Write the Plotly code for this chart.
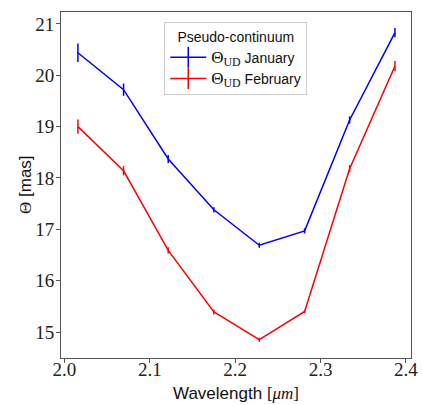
import plotly.graph_objects as go

wavelength = [2.0158, 2.0693, 2.1216, 2.1751, 2.2283, 2.2814, 2.3341, 2.3872]
theta_jan = [20.44, 19.72, 18.37, 17.38, 16.69, 16.97, 19.13, 20.83]
err_jan = [0.18, 0.12, 0.08, 0.05, 0.05, 0.05, 0.07, 0.09]
theta_feb = [19.00, 18.14, 16.59, 15.39, 14.85, 15.40, 18.18, 20.18]
err_feb = [0.14, 0.09, 0.06, 0.05, 0.04, 0.03, 0.07, 0.10]

legend_title = "Pseudo-continuum"
name_jan = "<span style='font-family:Liberation Serif;font-size:17px'>Θ<sub>UD</sub></span> January"
name_feb = "<span style='font-family:Liberation Serif;font-size:17px'>Θ<sub>UD</sub></span> February"
x_title = "Wavelength <span style='font-family:Liberation Serif'>[<i>μm</i>]</span>"
y_title = "<span style='font-family:Liberation Serif'>Θ</span> [mas]"

BLUE = "#0000ff"
RED = "#ff0000"

fig = go.Figure()
for y, e, c in [(theta_jan, err_jan, BLUE), (theta_feb, err_feb, RED)]:
    fig.add_trace(go.Scatter(
        x=wavelength, y=y, mode="lines",
        line=dict(color=c, width=1.5),
        error_y=dict(type="data", array=e, color=c, thickness=1.5, width=0),
        showlegend=False, hoverinfo="skip",
    ))
for name, c in [(name_jan, BLUE), (name_feb, RED)]:
    fig.add_trace(go.Scatter(
        x=[None], y=[None], mode="lines+markers", name=name,
        line=dict(color=c, width=1.5),
        marker=dict(symbol="line-ns-open", size=15, color=c,
                    line=dict(color=c, width=1.5)),
    ))

axis_common = dict(
    showline=True, linecolor="#555555", linewidth=1, mirror=True,
    ticks="outside", ticklen=4, tickcolor="#555555", tickwidth=1,
    showgrid=False, zeroline=False, automargin=False,
    tickfont=dict(family="Liberation Serif", size=19, color="#222222"),
)

title_font = dict(family="Liberation Sans", size=17, color="#111111")

fig.update_layout(
    width=422, height=405,
    margin=dict(l=61, r=11, t=12, b=47),
    paper_bgcolor="white", plot_bgcolor="white",
    xaxis=dict(range=[1.996, 2.406], tickvals=[2.0, 2.1, 2.2, 2.3, 2.4],
               ticktext=["2.0", "2.1", "2.2", "2.3", "2.4"],
               ticklabelstandoff=-10,
               **axis_common),
    yaxis=dict(range=[14.494, 21.233], tickvals=[15, 16, 17, 18, 19, 20, 21],
               ticklabelstandoff=-2,
               **axis_common),
    legend=dict(
        title=dict(text=legend_title, side="top center",
                   font=dict(family="Liberation Sans", size=14, color="#111111")),
        font=dict(family="Liberation Sans", size=14, color="#111111"),
        x=0.295, y=0.97, xanchor="left", yanchor="top",
        bordercolor="#cccccc", borderwidth=1, bgcolor="white",
        itemwidth=36, tracegroupgap=2,
    ),
    annotations=[
        dict(text=x_title, xref="paper", yref="paper", x=0.5, y=0,
             xanchor="center", yanchor="middle", yshift=-35, showarrow=False,
             font=title_font),
        dict(text=y_title, xref="paper", yref="paper", x=0, y=0.5,
             xanchor="center", yanchor="middle", xshift=-36, textangle=-90,
             showarrow=False, font=title_font),
    ],
)

fig.write_html("out.html", config={"displayModeBar": False},
               post_script="document.body.style.margin='0';document.body.style.overflow='hidden';")
